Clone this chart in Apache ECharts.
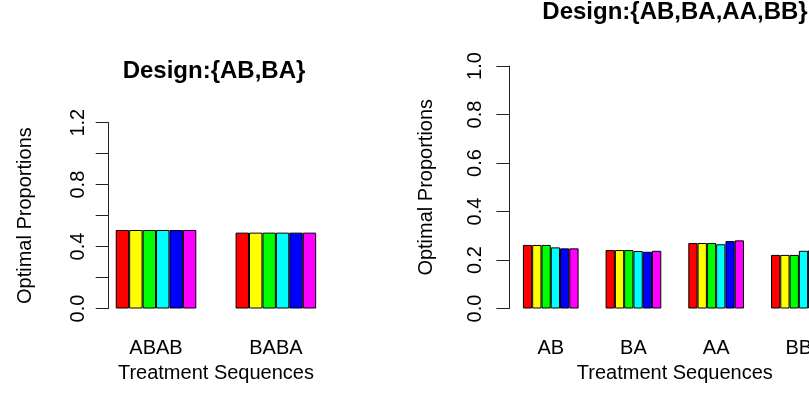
<!DOCTYPE html>
<html>
<head>
<meta charset="utf-8">
<script src="https://cdn.jsdelivr.net/npm/echarts@6/dist/echarts.min.js"></script>
<style>
html,body{margin:0;padding:0;background:#fff;overflow:hidden;width:809px;height:410px;}
#chart{width:860px;height:410px;}
</style>
</head>
<body>
<div id="chart"></div>
<script>
// ---- data ----
const leftTitle = 'Design:{AB,BA}';
const rightTitle = 'Design:{AB,BA,AA,BB}';
const xAxisName = 'Treatment Sequences';
const yAxisName = 'Optimal Proportions';

const leftCategories = ['ABAB', 'BABA'];
const rightCategories = ['AB', 'BA', 'AA', 'BB'];

const seriesColors = ['#FF0000', '#FFFF00', '#00FF00', '#00FFFF', '#0000FF', '#FF00FF'];

// left panel values, one array per coloured series
const left1 = [0.507, 0.490];
const left2 = [0.507, 0.490];
const left3 = [0.507, 0.490];
const left4 = [0.507, 0.490];
const left5 = [0.507, 0.490];
const left6 = [0.507, 0.490];

// right panel values, one array per coloured series
const right1 = [0.262, 0.241, 0.270, 0.221];
const right2 = [0.262, 0.241, 0.270, 0.221];
const right3 = [0.262, 0.241, 0.270, 0.221];
const right4 = [0.252, 0.237, 0.265, 0.238];
const right5 = [0.248, 0.234, 0.278, 0.240];
const right6 = [0.248, 0.238, 0.281, 0.233];

const leftYTickLabels = ['0.0', '', '0.4', '', '0.8', '', '1.2'];
const rightYTickLabels = ['0.0', '0.2', '0.4', '0.6', '0.8', '1.0'];

const leftSeriesData = [left1, left2, left3, left4, left5, left6];
const rightSeriesData = [right1, right2, right3, right4, right5, right6];

// ---- chart ----
const FONT = 'Liberation Sans, Arial, Helvetica, sans-serif';
const chart = echarts.init(document.getElementById('chart'), null, {renderer: 'canvas', width: 860, height: 410});

function yAxisCfg(gridIndex, max, labels, offset, margin) {
  return {
    type: 'value', gridIndex: gridIndex, min: 0, max: max, interval: 0.2,
    offset: offset,
    name: yAxisName, nameLocation: 'middle', nameRotate: 90, nameGap: 73,
    nameTextStyle: {fontFamily: FONT, fontSize: 20, color: '#000'},
    axisLine: {show: true, lineStyle: {color: '#222', width: 1}},
    axisTick: {show: true, length: 13, lineStyle: {color: '#222', width: 1}},
    splitLine: {show: false},
    axisLabel: {
      rotate: 90, margin: margin, fontFamily: FONT, fontSize: 20, color: '#000',
      formatter: function (v) { return labels[Math.round(v / 0.2)]; }
    }
  };
}

function xAxisCfg(gridIndex, cats) {
  return {
    type: 'category', gridIndex: gridIndex, data: cats,
    name: xAxisName, nameLocation: 'middle', nameGap: 55,
    nameTextStyle: {fontFamily: FONT, fontSize: 20, color: '#000'},
    axisLine: {show: false}, axisTick: {show: false}, splitLine: {show: false},
    axisLabel: {margin: 30, fontFamily: FONT, fontSize: 20, color: '#000'}
  };
}

const series = [];
leftSeriesData.forEach(function (d, i) {
  series.push({
    type: 'bar', xAxisIndex: 0, yAxisIndex: 0, data: d,
    barWidth: 13.43, barGap: '0%',
    itemStyle: {color: seriesColors[i], borderColor: '#000', borderWidth: 1},
    silent: true
  });
});
rightSeriesData.forEach(function (d, i) {
  series.push({
    type: 'bar', xAxisIndex: 1, yAxisIndex: 1, data: d,
    barWidth: 9.28, barGap: '0%',
    itemStyle: {color: seriesColors[i], borderColor: '#000', borderWidth: 1},
    silent: true
  });
});

chart.setOption({
  animation: false,
  backgroundColor: '#fff',
  grid: [
    {left: 96.1, top: 122.7, width: 239.7, height: 185.8, containLabel: false},
    {left: 509.4, top: 66, width: 330.8, height: 242.5, containLabel: false}
  ],
  xAxis: [xAxisCfg(0, leftCategories), xAxisCfg(1, rightCategories)],
  yAxis: [yAxisCfg(0, 1.2, leftYTickLabels, -12.6, 20), yAxisCfg(1, 1.0, rightYTickLabels, 0, 24)],
  graphic: [
    {type: 'text', silent: true, x: 214, y: 71,
     style: {text: leftTitle, fontFamily: FONT, fontSize: 24, fontWeight: 'bold', fill: '#000', textAlign: 'center', textVerticalAlign: 'middle'}},
    {type: 'text', silent: true, x: 675, y: 12,
     style: {text: rightTitle, fontFamily: FONT, fontSize: 24, fontWeight: 'bold', fill: '#000', textAlign: 'center', textVerticalAlign: 'middle'}}
  ],
  series: series
});
</script>
</body>
</html>
